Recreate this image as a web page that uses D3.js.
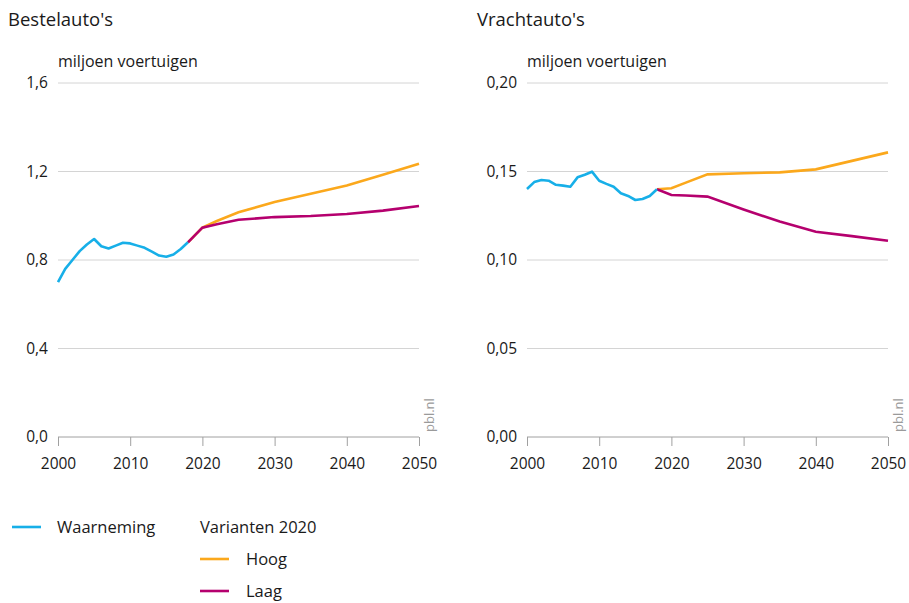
<!DOCTYPE html>
<html>
<head>
<meta charset="utf-8">
<script src="https://cdn.jsdelivr.net/npm/d3@7"></script>
<style>
  body { margin: 0; background: #fff; }
  svg text { font-family: "Open Sans", "Noto Sans", sans-serif; fill: #1a1a1a; }
</style>
</head>
<body>
<script>
// observed years
var obsYears = [2000,2001,2002,2003,2004,2005,2006,2007,2008,2009,2010,2011,2012,2013,2014,2015,2016,2017,2018];
// scenario years
var varYears = [2018,2020,2022,2025,2030,2035,2040,2045,2050];

// Bestelauto's (million vehicles)
var bestelObs = [0.70,0.76,0.80,0.84,0.87,0.895,0.862,0.852,0.865,0.878,0.875,0.865,0.855,0.838,0.82,0.815,0.825,0.85,0.88];
var bestelHoog = [0.88,0.946,0.976,1.016,1.062,1.099,1.137,1.185,1.235];
var bestelLaag = [0.88,0.946,0.962,0.982,0.994,0.999,1.008,1.023,1.044];

// Vrachtauto's (million vehicles)
var vrachtObs = [0.1401,0.1440,0.1452,0.1448,0.1425,0.1420,0.1414,0.1467,0.1482,0.1499,0.1448,0.1430,0.1414,0.1377,0.1362,0.1339,0.1345,0.1362,0.1400];
var vrachtHoog = [0.1400,0.1405,0.1437,0.1484,0.1490,0.1495,0.1512,0.1560,0.1608];
var vrachtLaag = [0.1400,0.1367,0.1364,0.1358,0.1285,0.1217,0.1160,0.1135,0.1109];

var bestelTicks = [0, 0.4, 0.8, 1.2, 1.6];
var vrachtTicks = [0, 0.05, 0.10, 0.15, 0.20];
var xTicks = [2000, 2010, 2020, 2030, 2040, 2050];

var colBlue = "#17afe8", colOrange = "#fba81c", colMagenta = "#b5006e";

var width = 909, height = 603;
var svg = d3.select("body").append("svg")
    .attr("width", width)
    .attr("height", height);

//draw one panel
function drawPanel(opts){
    var x = d3.scaleLinear().domain([2000, 2050]).range([opts.left, opts.left + 361]);
    var y = d3.scaleLinear().domain([0, opts.max]).range([437, 83]);
    var g = svg.append("g");

    g.append("text")
        .attr("x", opts.left - 50)
        .attr("y", 26)
        .style("font-size", "18.5px")
        .text(opts.title);

    g.append("text")
        .attr("x", opts.left)
        .attr("y", 67)
        .style("font-size", "16px")
        .text("miljoen voertuigen");

    //gridlines
    g.selectAll(".grid")
        .data(opts.ticks.slice(1))
        .enter()
        .append("line")
        .attr("x1", x(2000)).attr("x2", x(2050))
        .attr("y1", function(d){ return y(d); })
        .attr("y2", function(d){ return y(d); })
        .attr("stroke", "#d4d4d4")
        .attr("stroke-width", 1);

    g.selectAll(".ylab")
        .data(opts.ticks)
        .enter()
        .append("text")
        .attr("x", opts.left - 10)
        .attr("y", function(d){ return y(d) + 5; })
        .attr("text-anchor", "end")
        .style("font-size", "15.5px")
        .text(function(d){ return d3.format(opts.fmt)(d).replace(".", ","); });

    //x axis
    var xAxis = d3.axisBottom(x).tickValues(xTicks).tickFormat(d3.format("d")).tickSize(9).tickPadding(12);
    var ax = g.append("g")
        .attr("transform", "translate(0,437)")
        .call(xAxis);
    ax.select(".domain").attr("stroke", "#a0a0a0").attr("d", "M" + x(2000) + ",0H" + x(2050));
    ax.selectAll(".tick line").attr("stroke", "#a0a0a0");
    ax.selectAll(".tick text")
        .style("font-size", "15.5px")
        .style("font-family", "'Open Sans', 'Noto Sans', sans-serif")
        .attr("fill", "#1a1a1a");

    g.append("text")
        .attr("transform", "translate(" + (x(2050) + 15) + ",432) rotate(-90)")
        .style("font-size", "13px")
        .style("fill", "#9a9a9a")
        .text("pbl.nl");

    var line = d3.line()
        .x(function(d){ return x(d[0]); })
        .y(function(d){ return y(d[1]); });

    g.append("path")
        .datum(d3.zip(varYears, opts.hoog))
        .attr("d", line)
        .attr("fill", "none")
        .attr("stroke", colOrange)
        .attr("stroke-width", 2.6);
    g.append("path")
        .datum(d3.zip(varYears, opts.laag))
        .attr("d", line)
        .attr("fill", "none")
        .attr("stroke", colMagenta)
        .attr("stroke-width", 2.6);
    g.append("path")
        .datum(d3.zip(obsYears, opts.obs))
        .attr("d", line)
        .attr("fill", "none")
        .attr("stroke", colBlue)
        .attr("stroke-width", 2.6)
        .attr("stroke-linejoin", "round");
}

drawPanel({left: 58, max: 1.6, ticks: bestelTicks, fmt: ".1f", title: "Bestelauto's",
    obs: bestelObs, hoog: bestelHoog, laag: bestelLaag});
drawPanel({left: 527, max: 0.2, ticks: vrachtTicks, fmt: ".2f", title: "Vrachtauto's",
    obs: vrachtObs, hoog: vrachtHoog, laag: vrachtLaag});

//legend
var legend = svg.append("g");
var legItems = [
    {x: 12, y: 527, tx: 57, col: colBlue, label: "Waarneming"},
    {x: 200, y: 559, tx: 246, col: colOrange, label: "Hoog"},
    {x: 200, y: 591, tx: 246, col: colMagenta, label: "Laag"}
];
legItems.forEach(function(d){
    legend.append("line")
        .attr("x1", d.x).attr("x2", d.x + 29)
        .attr("y1", d.y).attr("y2", d.y)
        .attr("stroke", d.col)
        .attr("stroke-width", 2.6);
    legend.append("text")
        .attr("x", d.tx)
        .attr("y", d.y + 6)
        .style("font-size", "16.5px")
        .text(d.label);
});
legend.append("text")
    .attr("x", 200)
    .attr("y", 533)
    .style("font-size", "16.5px")
    .text("Varianten 2020");
</script>
</body>
</html>
